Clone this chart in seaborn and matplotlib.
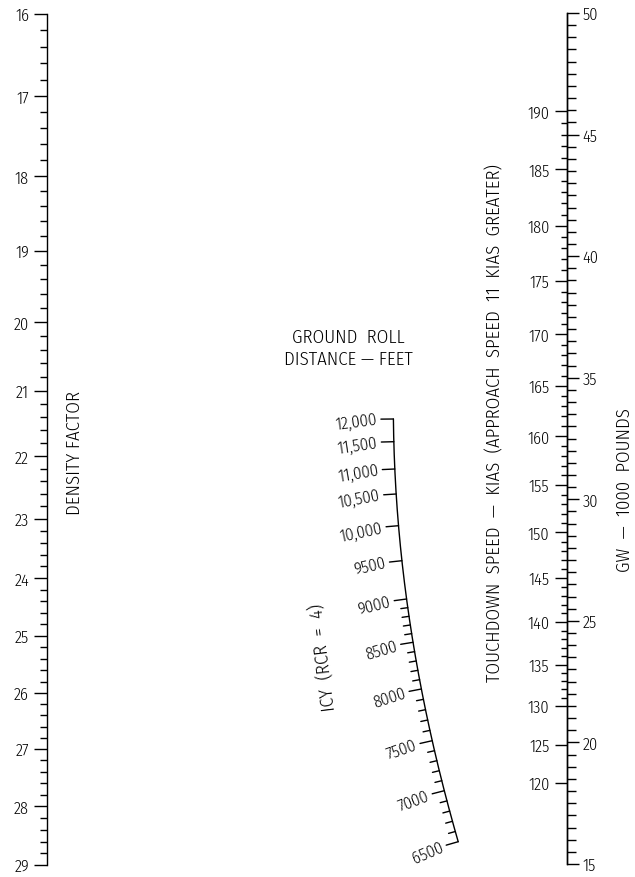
import numpy as np
import pandas as pd
import matplotlib
matplotlib.use("Agg")
import matplotlib.pyplot as plt
import seaborn as sns
from matplotlib.ticker import FixedLocator

# ---- scale values ----
density_ticks = [16, 17, 18, 19, 20, 21, 22, 23, 24, 25, 26, 27, 28, 29]
gw_ticks = [15, 20, 25, 30, 35, 40, 45, 50]
speed_ticks = [120, 125, 130, 135, 140, 145, 150, 155, 160, 165, 170, 175, 180, 185, 190]
speed_minor = list(range(130, 191))
roll_ticks = [12000, 11500, 11000, 10500, 10000, 9500, 9000, 8500, 8000, 7500, 7000, 6500]
roll_minor = list(range(6500, 9001, 100))
K_SPEED = 0.001273          # gross weight (1000 lb) per KIAS^2

# ---- layout (pixel positions on the sheet) ----
W, H = 635, 878
density_pos = [14.7, 97.3, 177.3, 251.7, 323.3, 391.7, 457.3, 520.0,
               579.3, 636.7, 694.0, 750.0, 807.3, 866.0]
roll_y = [420.0, 442.7, 470.0, 495.0, 526.7, 561.7, 600.0, 643.3,
          690.0, 741.7, 791.7, 842.7]
roll_x = [393.3, 394.0, 395.0, 396.0, 398.3, 401.7, 406.7, 413.3,
          421.7, 431.7, 444.3, 458.3]

sns.set_theme(style="ticks")
plt.rcParams['font.family'] = ['Fira Sans Condensed', 'DejaVu Sans']
plt.rcParams['font.weight'] = 300
plt.rcParams['axes.linewidth'] = 1.0
plt.rcParams['text.color'] = 'black'
plt.rcParams['ytick.color'] = 'black'
plt.rcParams['axes.edgecolor'] = 'black'

TICK_FS = 11.8
TITLE_FS = 13.5
PT = 72 / 100  # points per pixel

fig = plt.figure(figsize=(W / 100, H / 100), dpi=100)
fig.patch.set_facecolor('white')


def strip(ax, keep):
    for side, sp in ax.spines.items():
        sp.set_visible(side == keep)
        sp.set_linewidth(1.0)
        sp.set_color('black')
    ax.set_xticks([])
    ax.patch.set_alpha(0)


# ---- density factor scale ----
def dens_fwd(v):
    return np.interp(v, density_ticks, density_pos)


def dens_inv(p):
    return np.interp(p, density_pos, density_ticks)


ax_d = fig.add_axes([47 / W, 1 - density_pos[-1] / H, 1e-4,
                     (density_pos[-1] - density_pos[0]) / H])
ax_d.set_yscale('function', functions=(dens_fwd, dens_inv))
ax_d.set_ylim(density_ticks[-1], density_ticks[0])
strip(ax_d, 'left')
ax_d.yaxis.set_major_locator(FixedLocator(density_ticks))
dens_minor = [round(v, 1) for v in np.arange(16, 29.001, 0.2)
              if abs(v - round(v)) > 1e-6]
ax_d.yaxis.set_minor_locator(FixedLocator(dens_minor))
ax_d.set_yticklabels([str(v) for v in density_ticks])
ax_d.tick_params(axis='y', which='major', direction='out', length=13 * PT,
                 width=1.0, labelsize=TICK_FS, pad=5 * PT, left=True)
ax_d.tick_params(axis='y', which='minor', direction='out', length=7 * PT,
                 width=1.0, left=True)

# ---- gross weight / touchdown speed scale ----
gw_top, gw_bot = 14.0, 865.0
ax_g = fig.add_axes([566.7 / W, 1 - gw_bot / H, 1e-4, (gw_bot - gw_top) / H])
ax_g.set_ylim(min(gw_ticks), max(gw_ticks))
strip(ax_g, 'right')
ax_g.yaxis.tick_right()
ax_g.yaxis.set_major_locator(FixedLocator(gw_ticks))
ax_g.yaxis.set_minor_locator(FixedLocator(
    [v for v in np.arange(15, 50.001, 0.5) if v % 5 != 0]))
ax_g.tick_params(axis='y', which='major', direction='out', length=11.7 * PT,
                 width=1.0, labelsize=TICK_FS, pad=4 * PT, right=True, left=False)
ax_g.tick_params(axis='y', which='minor', direction='out', length=9.3 * PT,
                 width=1.0, right=True, left=False)


def gw_to_speed(g):
    return np.sqrt(np.clip(g, 1e-9, None) / K_SPEED)


def speed_to_gw(v):
    return K_SPEED * np.asarray(v, dtype=float) ** 2


sec = ax_g.secondary_yaxis('left', functions=(gw_to_speed, speed_to_gw))
sec.spines['left'].set_linewidth(1.0)
sec.spines['left'].set_color('black')
sec.yaxis.set_major_locator(FixedLocator(speed_ticks))
sec.yaxis.set_minor_locator(FixedLocator([v for v in speed_minor if v % 5 != 0]))
sec.set_yticklabels([str(v) for v in speed_ticks])
sec.tick_params(axis='y', which='major', direction='out', length=12.3 * PT,
                width=1.0, labelsize=TICK_FS, pad=5 * PT)
sec.tick_params(axis='y', which='minor', direction='out', length=5.7 * PT,
                width=1.0)

# ---- ground roll curved scale ----
ax_c = fig.add_axes([0, 0, 1, 1])
ax_c.set_xlim(0, W)
ax_c.set_ylim(H, 0)
ax_c.axis('off')
ax_c.patch.set_alpha(0)

coef = np.polyfit(roll_y, roll_x, 3)
dcoef = np.polyder(coef)
ys = np.linspace(roll_y[0], roll_y[-1], 300)
curve = pd.DataFrame({'x': np.polyval(coef, ys), 'y': ys})
sns.lineplot(data=curve, x='x', y='y', sort=False, estimator=None,
             color='black', lw=1.0, ax=ax_c)


def roll_point(v):
    y = np.interp(v, roll_ticks[::-1], roll_y[::-1])
    x = np.polyval(coef, y)
    a = np.polyval(dcoef, y)
    n = np.array([-1.0, a]) / np.hypot(1.0, a)
    return x, y, a, n


for v in roll_ticks:
    x, y, a, n = roll_point(v)
    L = 12.5
    ax_c.plot([x, x + L * n[0]], [y, y + L * n[1]], color='black', lw=1.0)
    lx, ly = x + (L + 4) * n[0], y + (L + 4) * n[1]
    txt = f"{v:,}" if v >= 10000 else str(v)
    ax_c.text(lx, ly, txt, ha='right', va='center', fontsize=TICK_FS + 0.3,
              rotation=np.degrees(np.arctan(a)) + 7, rotation_mode='anchor')

for v in roll_minor:
    if v % 500 == 0:
        continue
    x, y, a, n = roll_point(v)
    L = 7
    ax_c.plot([x, x + L * n[0]], [y, y + L * n[1]], color='black', lw=1.0)

# ---- scale titles ----
ax_c.text(75, 453, "DENSITY FACTOR", rotation=90, ha='center', va='center',
          fontsize=TITLE_FS)
ax_c.text(348.5, 338, "GROUND  ROLL", ha='center', va='center', fontsize=TITLE_FS)
ax_c.text(348.5, 360, "DISTANCE — FEET", ha='center', va='center',
          fontsize=TITLE_FS)
ax_c.text(323, 657, "ICY  (RCR  =  4)", rotation=97, ha='center', va='center',
          fontsize=TITLE_FS, rotation_mode='anchor')
ax_c.text(495, 423, "TOUCHDOWN  SPEED  —  KIAS  (APPROACH  SPEED  11  KIAS  GREATER)",
          rotation=90, ha='center', va='center', fontsize=TITLE_FS)
ax_c.text(625, 490, "GW  —  1000  POUNDS", rotation=90, ha='center', va='center',
          fontsize=TITLE_FS)

fig.savefig("out.png", dpi=100, facecolor='white')
